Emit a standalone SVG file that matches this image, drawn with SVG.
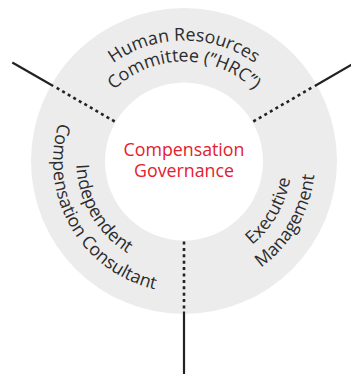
<svg xmlns="http://www.w3.org/2000/svg" xmlns:xlink="http://www.w3.org/1999/xlink" width="351" height="374" viewBox="0 0 351 374">
  <style>
    .lbl { font-family: "Open Sans", "Noto Sans", sans-serif; font-size: 17.8px; fill: #2b2b2b; }
    .center { font-family: "Open Sans", "Noto Sans", sans-serif; font-size: 17.8px; fill: #e3202e; text-anchor: middle; }
    .dot { stroke: #222; stroke-width: 2.6; stroke-dasharray: 3 3.4; fill: none; }
    .solid { stroke: #222; stroke-width: 2.2; fill: none; }
  </style>
  <defs>
    <path id="pHuman" d="M 63,161.5 A 121 121 0 0 1 305,161.5"/>
    <path id="pCommittee" d="M 84,161.5 A 100 100 0 0 1 284,161.5"/>
    <path id="pIndep" d="M 130,67.97 A 108 108 0 0 0 238,255.03"/>
    <path id="pCompCons" d="M 118.5,48.05 A 131 131 0 0 0 249.5,274.95"/>
    <path id="pExec" d="M 130,255.03 A 108 108 0 0 0 238,67.97"/>
    <path id="pMgmt" d="M 118.5,274.95 A 131 131 0 0 0 249.5,48.05"/>
  </defs>

  <g id="ring">
    <circle cx="184" cy="161" r="153" fill="#ececec"/>
    <circle cx="184" cy="161.5" r="79" fill="#ffffff"/>
  </g>

  <g id="connectors">
    <line class="dot" x1="114.7" y1="121.5" x2="55" y2="87"/>
    <line class="solid" x1="53.2" y1="86" x2="12.3" y2="62.5"/>
    <line class="dot" x1="253.3" y1="121.5" x2="313" y2="87"/>
    <line class="solid" x1="314.8" y1="86" x2="355.5" y2="62.5"/>
    <line class="dot" x1="184" y1="241.5" x2="184" y2="310.5"/>
    <line class="solid" x1="184" y1="311.5" x2="184" y2="374"/>
  </g>

  <g id="node-center">
    <text class="center" x="184" y="155.7">Compensation</text>
    <text class="center" x="184" y="176.7">Governance</text>
  </g>

  <g id="node-hrc">
    <text class="lbl" text-anchor="middle"><textPath xlink:href="#pHuman" href="#pHuman" startOffset="50%">Human Resources</textPath></text>
    <text class="lbl" text-anchor="middle"><textPath xlink:href="#pCommittee" href="#pCommittee" startOffset="50%">Committee (”HRC”)</textPath></text>
  </g>

  <g id="node-consultant">
    <text class="lbl" text-anchor="middle"><textPath xlink:href="#pIndep" href="#pIndep" startOffset="50%">Independent</textPath></text>
    <text class="lbl" text-anchor="middle"><textPath xlink:href="#pCompCons" href="#pCompCons" startOffset="50%">Compensation Consultant</textPath></text>
  </g>

  <g id="node-executive">
    <text class="lbl" text-anchor="middle"><textPath xlink:href="#pExec" href="#pExec" startOffset="50%">Executive</textPath></text>
    <text class="lbl" text-anchor="middle"><textPath xlink:href="#pMgmt" href="#pMgmt" startOffset="50%">Management</textPath></text>
  </g>
</svg>
